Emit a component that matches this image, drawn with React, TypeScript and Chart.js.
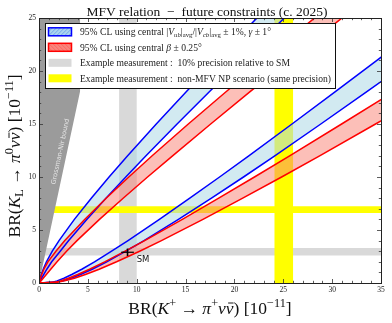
import React, { useEffect, useRef } from 'react';
import { Chart, registerables } from 'chart.js';

Chart.register(...registerables);

// ---------------- data ----------------
const xRange = [0, 35];
const yRange = [0, 25];
const xTickStep = 5;
const yTickStep = 5;

// sampled BR(K_L) values along the upper branch (top -> origin) and lower branch (origin -> right)
const yUpper = [27, 24, 21, 18, 15, 12, 10, 8, 6, 4, 3, 2, 1.3, 0.8, 0.45, 0.2, 0.06, 0];
const yLower = [0.06, 0.2, 0.45, 0.8, 1.3, 2, 3, 4, 6, 8, 10, 12, 15, 18, 21, 24];

const blueOuterUp = [24.42, 21.25, 18.1, 15.02, 12.0, 9.07, 7.17, 5.35, 3.62, 2.05, 1.36, 0.76, 0.43, 0.24, 0.12, 0.05, 0.02, 0];
const blueInnerUp = [27.34, 23.99, 20.67, 17.38, 14.13, 10.95, 8.88, 6.85, 4.89, 3.04, 2.17, 1.3, 0.8, 0.48, 0.27, 0.12, 0.04, 0];
const redOuterUp = [30.86, 26.87, 22.95, 19.08, 15.28, 11.58, 9.19, 6.87, 4.67, 2.64, 1.73, 0.91, 0.5, 0.28, 0.15, 0.07, 0.02, 0];
const redInnerUp = [33.74, 29.64, 25.57, 21.54, 17.57, 13.67, 11.11, 8.61, 6.19, 3.89, 2.82, 1.85, 1.2, 0.75, 0.43, 0.2, 0.06, 0];

const blueOuterLow = [1.7, 2.45, 3.3, 4.24, 5.44, 6.93, 8.89, 10.75, 14.27, 17.65, 20.93, 24.13, 28.84, 33.48, 38.04, 42.55];
const blueInnerLow = [1.3, 1.85, 2.55, 3.35, 4.38, 5.68, 7.43, 9.11, 12.32, 15.43, 18.48, 21.47, 25.89, 30.26, 34.58, 38.85];
const redOuterLow = [1.8, 2.62, 3.62, 4.75, 6.16, 7.94, 10.3, 12.53, 16.78, 20.85, 24.83, 28.72, 34.44, 40.06, 45.61, 51.11];
const redInnerLow = [1.55, 2.2, 3.0, 3.96, 5.17, 6.72, 8.81, 10.81, 14.67, 18.39, 22.05, 25.65, 30.97, 36.22, 41.43, 46.59];

// Grossman-Nir bound: BR(K_L) < 4.3 BR(K+), shaded up to BR(K+) = 4.2
const gnSlope = 4.3;
const gnXMax = 4.2;
const gnLabelAt = [2.2, 12.4];

// example measurements
const grayBandX = [8.2, 10.0];
const grayBandY = [2.6, 3.3];
const yellowBandX = [24.1, 26.0];
const yellowBandY = [6.6, 7.25];

// SM point
const smPoint = [9.06, 2.9];
const smErr = [0.65, 0.35];
const smLabelAt = [10.0, 2.15];

// ---------------- helpers ----------------
const SERIF = '"Liberation Serif", "DejaVu Serif", serif';
const SANS = '"DejaVu Sans", sans-serif';
const OUT = 40;
const TOPOUT = 28;

type P = { x: number; y: number };
const pts = (xs: number[], ys: number[]): P[] => xs.map((x, i) => ({ x, y: ys[i] }));
const curve = (up: number[], low: number[]): P[] => [...pts(up, yUpper), ...pts(low, yLower)];
const band = (outer: P[], inner: P[]): P[] => [
  { x: -1, y: TOPOUT },
  ...outer,
  ...inner.slice().reverse(),
  { x: OUT, y: TOPOUT },
];
const vBand = (b: number[]): P[] => [
  { x: b[0], y: -1 },
  { x: b[0], y: TOPOUT },
  { x: b[1], y: TOPOUT },
  { x: b[1], y: -1 },
];
const hBand = (b: number[]): P[] => [
  { x: -1, y: b[1] },
  { x: -1, y: b[0] },
  { x: OUT + 1, y: b[0] },
  { x: OUT, y: b[1] },
];

const blueOuter = curve(blueOuterUp, blueOuterLow);
const blueInner = curve(blueInnerUp, blueInnerLow);
const redOuter = curve(redOuterUp, redOuterLow);
const redInner = curve(redInnerUp, redInnerLow);

const gnPoly: P[] = [
  { x: -1, y: TOPOUT },
  { x: -1, y: 0 },
  { x: 0, y: 0 },
  { x: gnXMax, y: gnSlope * gnXMax },
  { x: gnXMax, y: TOPOUT },
];

type Seg = { t: string; it?: boolean; sup?: boolean; sub?: boolean; bar?: boolean };

function drawRich(ctx: CanvasRenderingContext2D, segs: Seg[], x: number, y: number, size: number, align: 'left' | 'center', color: string) {
  const fs = (s: Seg) => (s.sup || s.sub ? size * 0.7 : size);
  const font = (s: Seg) => `${s.it ? 'italic ' : ''}${fs(s)}px ${SERIF}`;
  const ws = segs.map((s) => {
    ctx.font = font(s);
    return ctx.measureText(s.t).width;
  });
  const total = ws.reduce((a, b) => a + b, 0);
  let cx = align === 'center' ? x - total / 2 : x;
  ctx.textAlign = 'left';
  ctx.textBaseline = 'alphabetic';
  ctx.fillStyle = color;
  segs.forEach((s, i) => {
    ctx.font = font(s);
    const dy = s.sup ? -size * 0.4 : s.sub ? size * 0.22 : 0;
    ctx.fillText(s.t, cx, y + dy);
    if (s.bar) {
      ctx.save();
      ctx.strokeStyle = color;
      ctx.lineWidth = Math.max(0.7, size * 0.055);
      const by = y + dy - fs(s) * 0.6;
      ctx.beginPath();
      ctx.moveTo(cx + ws[i] * 0.3, by);
      ctx.lineTo(cx + ws[i] * 1.0, by);
      ctx.stroke();
      ctx.restore();
    }
    cx += ws[i];
  });
}

const titleSegs: Seg[] = [{ t: 'MFV relation  \u2212  future constraints (c. 2025)' }];
const xLabelSegs: Seg[] = [
  { t: 'BR(' }, { t: 'K', it: true }, { t: '+', sup: true }, { t: ' \u2192 ' },
  { t: '\u03C0', it: true }, { t: '+', sup: true }, { t: '\u03BD', it: true }, { t: '\u03BD', it: true, bar: true },
  { t: ') [10' }, { t: '\u221211', sup: true }, { t: ']' },
];
const yLabelSegs: Seg[] = [
  { t: 'BR(' }, { t: 'K', it: true }, { t: 'L', sub: true }, { t: ' \u2192 ' },
  { t: '\u03C0', it: true }, { t: '0', sup: true }, { t: '\u03BD', it: true }, { t: '\u03BD', it: true, bar: true },
  { t: ') [10' }, { t: '\u221211', sup: true }, { t: ']' },
];
const legendRows: { segs: Seg[]; kind: 'blue' | 'red' | 'gray' | 'yellow' }[] = [
  {
    kind: 'blue',
    segs: [
      { t: '95% CL using central |' }, { t: 'V', it: true }, { t: 'ub', sub: true, it: true }, { t: '|' },
      { t: 'avg', sub: true }, { t: '/|' }, { t: 'V', it: true }, { t: 'cb', sub: true, it: true }, { t: '|' },
      { t: 'avg', sub: true }, { t: ' \u00B1 1%, ' }, { t: '\u03B3', it: true }, { t: ' \u00B1 1\u00B0' },
    ],
  },
  { kind: 'red', segs: [{ t: '95% CL using central ' }, { t: '\u03B2', it: true }, { t: ' \u00B1 0.25\u00B0' }] },
  { kind: 'gray', segs: [{ t: 'Example measurement :  10% precision relative to SM' }] },
  { kind: 'yellow', segs: [{ t: 'Example measurement :  non-MFV NP scenario (same precision)' }] },
];

const decor = {
  id: 'decor',
  afterDatasetsDraw(chart: any) {
    const { ctx, chartArea: a, scales } = chart;
    const x = scales.x;
    const y = scales.y;
    ctx.save();
    const p0x = x.getPixelForValue(0), p0y = y.getPixelForValue(0);
    const p1x = x.getPixelForValue(gnXMax), p1y = y.getPixelForValue(gnSlope * gnXMax);
    const ang = Math.atan2(p1y - p0y, p1x - p0x);
    ctx.save();
    ctx.translate(x.getPixelForValue(gnLabelAt[0]), y.getPixelForValue(gnLabelAt[1]));
    ctx.rotate(ang);
    ctx.font = `6.5px ${SANS}`;
    ctx.fillStyle = '#e4e4e4';
    ctx.textAlign = 'center';
    ctx.textBaseline = 'middle';
    ctx.fillText('Grossman-Nir bound', 0, 0);
    ctx.restore();
    ctx.font = `8.5px ${SANS}`;
    ctx.fillStyle = '#111';
    ctx.textAlign = 'left';
    ctx.textBaseline = 'middle';
    ctx.fillText('SM', x.getPixelForValue(smLabelAt[0]), y.getPixelForValue(smLabelAt[1]));
    ctx.strokeStyle = '#333';
    ctx.lineWidth = 0.8;
    const seg = (x1: number, y1: number, x2: number, y2: number) => {
      ctx.beginPath();
      ctx.moveTo(x1, y1);
      ctx.lineTo(x2, y2);
      ctx.stroke();
    };
    for (let v = xRange[0]; v <= xRange[1]; v += 1) {
      const px = Math.round(x.getPixelForValue(v)) + 0.5;
      const L = v % xTickStep === 0 ? 4 : 2.2;
      seg(px, a.bottom, px, a.bottom - L);
      seg(px, a.top, px, a.top + L);
    }
    for (let v = yRange[0]; v <= yRange[1]; v += 1) {
      const py = Math.round(y.getPixelForValue(v)) + 0.5;
      const L = v % yTickStep === 0 ? 4 : 2.2;
      seg(a.left, py, a.left + L, py);
      seg(a.right, py, a.right - L, py);
    }
    ctx.strokeStyle = '#222';
    ctx.lineWidth = 1;
    ctx.strokeRect(Math.round(a.left) + 0.5, Math.round(a.top) + 0.5, Math.round(a.right - a.left), Math.round(a.bottom - a.top));
    ctx.restore();
  },
  afterDraw(chart: any) {
    const { ctx, chartArea: a } = chart;
    ctx.save();
    const lx = a.left + 6, ly = a.top + 5, lw = 290, lh = 65;
    ctx.fillStyle = '#ffffff';
    ctx.fillRect(lx, ly, lw, lh);
    ctx.strokeStyle = '#111';
    ctx.lineWidth = 1;
    ctx.strokeRect(Math.round(lx) + 0.5, Math.round(ly) + 0.5, lw, lh);
    legendRows.forEach((row, i) => {
      const cy = ly + 8.8 + i * 15.5;
      const sx = lx + 3.5, sy = cy - 4, sw = 23, sh = 8;
      if (row.kind === 'gray' || row.kind === 'yellow') {
        ctx.fillStyle = row.kind === 'gray' ? '#d9d9d9' : '#ffff00';
        ctx.fillRect(sx, sy, sw, sh);
      } else {
        const blue = row.kind === 'blue';
        ctx.fillStyle = blue ? '#a9d3ef' : '#f9857c';
        ctx.fillRect(sx, sy, sw, sh);
        ctx.save();
        ctx.beginPath();
        ctx.rect(sx, sy, sw, sh);
        ctx.clip();
        ctx.strokeStyle = blue ? '#5f93e6' : '#ff5a55';
        ctx.lineWidth = 0.7;
        for (let k = -sh; k < sw + sh; k += 4) {
          ctx.beginPath();
          if (blue) {
            ctx.moveTo(sx + k, sy + sh);
            ctx.lineTo(sx + k + sh, sy);
          } else {
            ctx.moveTo(sx + k, sy);
            ctx.lineTo(sx + k + sh, sy + sh);
          }
          ctx.stroke();
        }
        ctx.restore();
        ctx.strokeStyle = blue ? '#0000ff' : '#ff0000';
        ctx.lineWidth = 1.5;
        ctx.strokeRect(sx, sy, sw, sh);
      }
      drawRich(ctx, row.segs, lx + 35, cy + 3.2, 9.6, 'left', '#222');
    });
    drawRich(ctx, titleSegs, 207, 16, 13.5, 'center', '#111');
    drawRich(ctx, xLabelSegs, (a.left + a.right) / 2, 313.5, 17.5, 'center', '#111');
    ctx.save();
    ctx.translate(19.5, 156);
    ctx.rotate(-Math.PI / 2);
    drawRich(ctx, yLabelSegs, 0, 0, 17.5, 'center', '#111');
    ctx.restore();
    ctx.restore();
  },
};

function poly(data: P[], color: string, order: number) {
  return {
    data,
    showLine: true,
    fill: 'shape',
    backgroundColor: color,
    borderColor: 'rgba(0,0,0,0)',
    borderWidth: 0,
    pointRadius: 0,
    pointHoverRadius: 0,
    order,
  };
}
function line(data: P[], color: string, width: number, order: number) {
  return {
    data,
    showLine: true,
    fill: false,
    borderColor: color,
    backgroundColor: color,
    borderWidth: width,
    pointRadius: 0,
    pointHoverRadius: 0,
    order,
  };
}

export default function App() {
  const ref = useRef<HTMLCanvasElement>(null);
  useEffect(() => {
    if (!ref.current) return;
    const datasets: any[] = [
      poly(vBand(grayBandX), '#d9d9d9', 20),
      poly(hBand(grayBandY), '#d9d9d9', 19),
      poly(vBand(yellowBandX), '#ffff00', 18),
      poly(hBand(yellowBandY), '#ffff00', 17),
      poly(gnPoly, '#9b9b9b', 16),
      poly(band(blueOuter, blueInner), 'rgba(173,216,230,0.55)', 15),
      poly(band(redOuter, redInner), 'rgba(250,128,114,0.5)', 14),
      line(blueOuter, '#0000ff', 1.5, 13),
      line(blueInner, '#0000ff', 1.5, 12),
      line(redOuter, '#ff0000', 1.5, 11),
      line(redInner, '#ff0000', 1.5, 10),
      line([{ x: smPoint[0] - smErr[0], y: smPoint[1] }, { x: smPoint[0] + smErr[0], y: smPoint[1] }], '#000000', 1.2, 2),
      line([{ x: smPoint[0], y: smPoint[1] - smErr[1] }, { x: smPoint[0], y: smPoint[1] + smErr[1] }], '#000000', 1.6, 1),
    ];
    const tickFont = { family: SERIF, size: 7.5 };
    const chart = new Chart(ref.current, {
      type: 'scatter',
      data: { datasets },
      options: {
        animation: false,
        responsive: false,
        events: [],
        layout: { padding: { left: 0, right: 11, top: 18, bottom: 0 } },
        plugins: { legend: { display: false }, tooltip: { enabled: false }, title: { display: false } },
        scales: {
          x: {
            type: 'linear',
            min: xRange[0],
            max: xRange[1],
            afterFit: (s: any) => { s.height = 40; },
            grid: { display: false, drawTicks: false },
            border: { display: false },
            ticks: { stepSize: xTickStep, font: tickFont, color: '#222', padding: 3, maxRotation: 0, autoSkip: false },
          },
          y: {
            type: 'linear',
            min: yRange[0],
            max: yRange[1],
            afterFit: (s: any) => { s.width = 39; },
            grid: { display: false, drawTicks: false },
            border: { display: false },
            ticks: { stepSize: yTickStep, font: tickFont, color: '#222', padding: 3, autoSkip: false },
          },
        },
      } as any,
      plugins: [decor],
    });
    return () => chart.destroy();
  }, []);
  return (
    <div style={{ position: 'fixed', left: 0, top: 0, width: 392, height: 323, background: '#ffffff' }}>
      <canvas ref={ref} width={392} height={323} style={{ width: 392, height: 323, display: 'block' }} />
    </div>
  );
}
